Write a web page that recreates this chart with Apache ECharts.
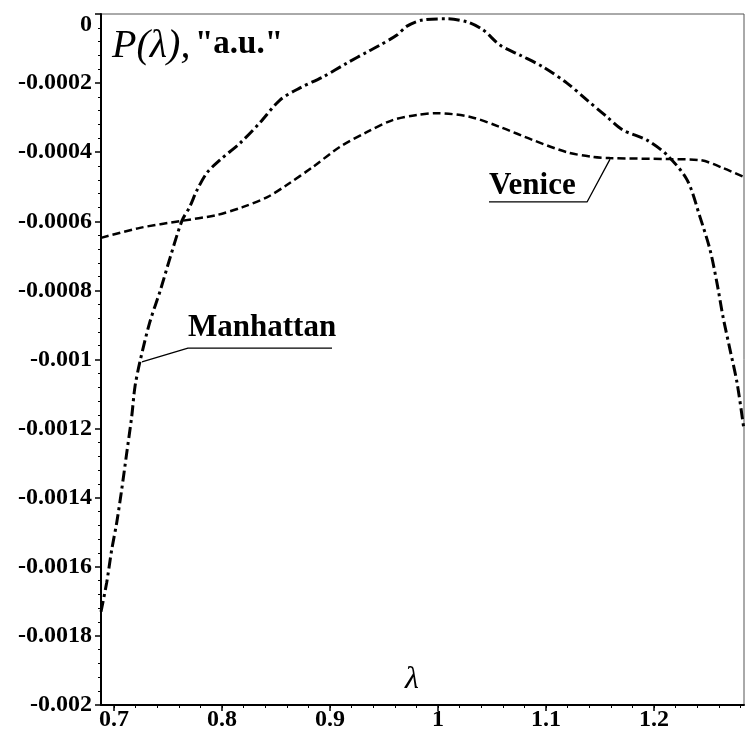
<!DOCTYPE html>
<html><head><meta charset="utf-8">
<script src="https://cdn.jsdelivr.net/npm/echarts@6/dist/echarts.min.js"></script>
<style>html,body{margin:0;padding:0;background:#fff}#c{width:747px;height:734px}</style>
</head><body><div id="c"></div>
<script>
// ---- data ----
const manhattanX = [0.688,0.6932,0.6979,0.7025,0.7071,0.7118,0.7164,0.7194,0.724,0.733,0.743,0.752,0.763,0.770,0.777,0.786,0.798,0.817,0.835,0.8537,0.8722,0.8935,0.9157,0.9343,0.9463,0.962,0.9713,0.9861,1.0083,1.0269,1.0417,1.0574,1.0759,1.0972,1.1194,1.138,1.1565,1.1713,1.1935,1.212,1.2306,1.2426,1.2519,1.2583,1.2639,1.2704,1.2769,1.2833];
const manhattanY = [-0.00173,-0.001647,-0.001551,-0.001473,-0.001378,-0.001271,-0.001166,-0.00108,-0.001007,-0.000894,-0.000799,-0.000705,-0.000598,-0.000559,-0.000509,-0.00046,-0.000423,-0.000373,-0.000315,-0.000249,-0.000214,-0.000182,-0.000142,-0.00011,-0.00009,-0.000061,-0.000035,-0.000017,-0.000014,-0.000023,-0.000046,-0.00009,-0.000119,-0.000153,-0.0002,-0.000249,-0.000298,-0.000336,-0.000365,-0.000408,-0.00048,-0.000588,-0.000683,-0.000779,-0.000877,-0.000972,-0.001068,-0.001204];
const veniceX = [0.688,0.724,0.762,0.795,0.819,0.842,0.860,0.884,0.909,0.934,0.958,0.981,0.999,1.030,1.0574,1.088,1.1194,1.1435,1.159,1.215,1.2426,1.264,1.2833];
const veniceY = [-0.000648,-0.000619,-0.000599,-0.000582,-0.000559,-0.00053,-0.000495,-0.000443,-0.000385,-0.000342,-0.000307,-0.000292,-0.000287,-0.000298,-0.000327,-0.000365,-0.0004,-0.000414,-0.000417,-0.00042,-0.000423,-0.000446,-0.000472];
const xTickLabels = [0.7,0.8,0.9,1,1.1,1.2];
const xMinorTicks = [0.70,0.72,0.74,0.76,0.78,0.80,0.82,0.84,0.86,0.88,0.90,0.92,0.94,0.96,0.98,1.00,1.02,1.04,1.06,1.08,1.10,1.12,1.14,1.16,1.18,1.20,1.22,1.24,1.26,1.28];
const manhattanLeaderX = [0.7259,0.7685,0.9019];
const manhattanLeaderY = [-0.001007,-0.000967,-0.000967];
const veniceLeaderX = [1.1593,1.138,1.0472];
const veniceLeaderY = [-0.00042,-0.000544,-0.000544];
const xMin = 0.688, xMax = 1.2833, yMin = -0.002, yMax = 0, yStep = 0.0002;

const zip = (a,b)=>a.map((v,i)=>[v,b[i]]);
const serif = '"Liberation Serif","Times New Roman",serif';

const chart = echarts.init(document.getElementById('c'));
const labelFont = {fontFamily: serif, fontWeight:'bold', fontSize:24, color:'#000'};
chart.setOption({
  animation:false,
  grid:{left:101, right:3, top:14, bottom:29, show:true, borderColor:'#555', borderWidth:1},
  xAxis:[{
    type:'value', min:xMin, max:xMax, position:'bottom',
    axisLine:{show:true, onZero:false, lineStyle:{color:'#000', width:2}},
    axisTick:{show:true, length:6, customValues:xTickLabels, lineStyle:{color:'#000', width:1.5}},
    axisLabel:Object.assign({customValues:xTickLabels, margin:3, formatter:v=>String(+v.toFixed(2))}, labelFont),
    splitLine:{show:false}
  },{
    type:'value', min:xMin, max:xMax, position:'bottom',
    axisLine:{show:false, onZero:false},
    axisTick:{show:true, length:3, customValues:xMinorTicks, lineStyle:{color:'#000', width:1}},
    axisLabel:{show:false}, splitLine:{show:false}
  }],
  yAxis:{
    type:'value', min:yMin, max:yMax, interval:yStep,
    axisLine:{show:true, onZero:false, lineStyle:{color:'#000', width:2}},
    axisTick:{show:true, length:6, lineStyle:{color:'#000', width:1.5}},
    minorTick:{show:true, splitNumber:5, length:3, lineStyle:{color:'#000', width:1}},
    splitLine:{show:false},
    axisLabel:Object.assign({margin:9, formatter:v=>{
      if (Math.abs(v) < 1e-12) return '{z|0}';
      return String(+v.toFixed(4));
    }, rich:{z:{fontFamily:serif, fontWeight:'bold', fontSize:24, color:'#000', padding:[22,0,0,0]}}}, labelFont)
  },
  series:[
    {name:'Manhattan', type:'line', xAxisIndex:0, data:zip(manhattanX, manhattanY), showSymbol:false, smooth:0.3,
     lineStyle:{color:'#000', width:3, type:[11,4,3,4]}},
    {name:'Venice', type:'line', xAxisIndex:0, data:zip(veniceX, veniceY), showSymbol:false, smooth:0.3,
     lineStyle:{color:'#000', width:2.5, type:[8,4]}},
    {type:'line', xAxisIndex:0, data:zip(manhattanLeaderX, manhattanLeaderY), showSymbol:false, silent:true,
     lineStyle:{color:'#000', width:1.3}},
    {type:'line', xAxisIndex:0, data:zip(veniceLeaderX, veniceLeaderY), showSymbol:false, silent:true,
     lineStyle:{color:'#000', width:1.3}}
  ],
  graphic:[
    {type:'text', left:112, top:26, style:{text:'P(λ),', font:'italic 40px '+serif, fill:'#000'}},
    {type:'text', left:195, top:28, style:{text:'"a.u."', font:'bold 33px '+serif, fill:'#000'}},
    {type:'text', left:405, top:664, style:{text:'λ', font:'italic 32px '+serif, fill:'#000'}},
    {type:'text', left:188, top:312, style:{text:'Manhattan', font:'bold 31px '+serif, fill:'#000'}},
    {type:'text', left:489, top:170, style:{text:'Venice', font:'bold 31px '+serif, fill:'#000'}}
  ]
});
</script></body></html>
